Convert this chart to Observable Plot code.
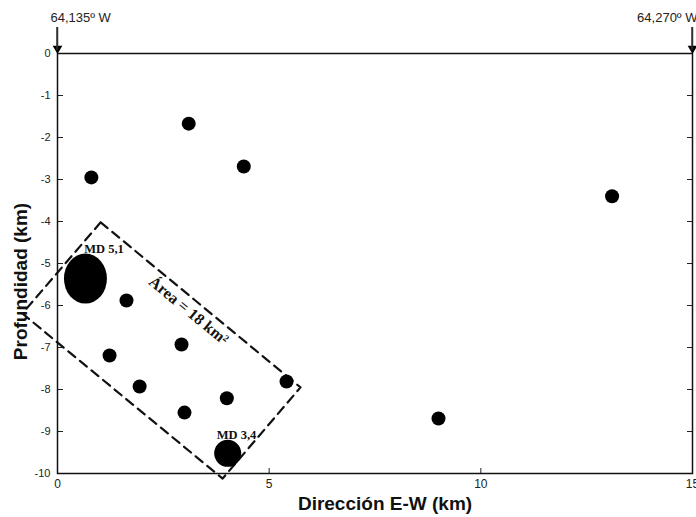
<!DOCTYPE html>
<html><head><meta charset="utf-8">
<script src="https://cdn.jsdelivr.net/npm/d3@7"></script>
<script src="https://cdn.jsdelivr.net/npm/@observablehq/plot@0.6"></script>
<style>body{margin:0;background:#fff}</style>
</head><body><div id="chart"></div>
<script>
// Earthquake hypocentres (small events)
const distance = [0.80, 3.10, 4.40, 13.10, 9.00, 1.63, 1.23, 2.93, 1.94, 3.00, 4.00, 5.41];
const depth    = [-2.95, -1.67, -2.69, -3.40, -8.69, -5.88, -7.19, -6.93, -7.93, -8.55, -8.21, -7.81];
// Largest events
const mdLabels = ["MD 5,1", "MD 3,4"];
const mdDistance = [0.66, 4.02];
const mdDepth = [-5.36, -9.52];
const mdLabelDistance = [1.10, 4.23];
const mdLabelDepth = [-4.66, -9.08];
// Dashed area outline (corners)
const areaCornerDistance = [1.02, 5.74, 3.90, -0.83, 1.02];
const areaCornerDepth    = [-4.02, -7.95, -10.12, -6.19, -4.02];
const areaLabel = "Área = 18 km²";
const areaLabelDistance = [3.10];
const areaLabelDepth = [-6.12];
// Axes
const xTicks = [0, 5, 10, 15];
const yTicks = [0, -1, -2, -3, -4, -5, -6, -7, -8, -9, -10];
const xLabel = "Dirección E-W (km)";
const yLabel = "Profundidad (km)";
// Longitude markers
const lonLabels = ["64,135º W", "64,270º W"];
const lonDistance = [0, 15];
const arrowSpan = [0.62, 0.08]; // arrow shaft, km above the 0 line

const events = distance.map((d, i) => ({x: d, y: depth[i]}));
const big = mdLabels.map((l, i) => ({label: l, x: mdDistance[i], y: mdDepth[i], lx: mdLabelDistance[i], ly: mdLabelDepth[i]}));
const area = areaCornerDistance.map((d, i) => ({x: d, y: areaCornerDepth[i]}));
const lons = lonLabels.map((l, i) => ({label: l, x: lonDistance[i]}));

const sans = "'Liberation Sans', Arial, sans-serif";
const serif = "'Liberation Serif', 'Times New Roman', serif";

const plot = Plot.plot({
  width: 696,
  height: 517,
  marginLeft: 57,
  marginRight: 4,
  marginTop: 53,
  marginBottom: 44,
  style: {fontFamily: sans, background: "#fff", overflow: "visible"},
  x: {domain: [0, 15]},
  y: {domain: [-10, 0]},
  r: {type: "identity"},
  marks: [
    Plot.axisY({anchor: "left", ticks: yTicks, tickSize: -6, tickPadding: 13, tickFormat: d => String(d), fontSize: 11, label: null, color: "#222"}),
    Plot.axisY({anchor: "right", ticks: yTicks, tickSize: -6, tickFormat: () => "", label: null, color: "#222"}),
    Plot.axisX({anchor: "bottom", ticks: xTicks, tickSize: -5, tickPadding: 11, tickFormat: d => String(d), fontSize: 12, label: null, color: "#222"}),
    Plot.frame({stroke: "#111", strokeWidth: 1.5}),
    Plot.line(area, {x: "x", y: "y", stroke: "#111", strokeWidth: 2.2, strokeDasharray: "9,6", clip: false}),
    Plot.dot(events, {x: "x", y: "y", r: 7, fill: "#000", stroke: "none"}),
    Plot.dot(big, {x: "x", y: "y", r: d => d.label === "MD 5,1" ? 25 : 13.5, fill: "#000", stroke: "none", className: "bigev"}),
    Plot.text(big, {x: "lx", y: "ly", text: "label", fontFamily: serif, fontWeight: "bold", fontSize: 12.5, fill: "#111"}),
    Plot.text([areaLabel], {x: () => areaLabelDistance[0], y: () => areaLabelDepth[0], text: d => d, rotate: 39.5, fontFamily: serif, fontWeight: "bold", fontSize: 16, fill: "#111"}),
    Plot.text([xLabel], {frameAnchor: "bottom", textAnchor: "middle", lineAnchor: "middle", dx: 10, dy: 30, text: d => d, fontWeight: "bold", fontSize: 19, fill: "#111"}),
    Plot.text([yLabel], {frameAnchor: "left", textAnchor: "middle", lineAnchor: "middle", dx: -37, dy: 18, rotate: -90, text: d => d, fontWeight: "bold", fontSize: 19, fill: "#111"}),
    Plot.tickX(lons, {x: "x", insetTop: -26, insetBottom: 425, stroke: "#333", strokeWidth: 1.5, clip: false}),
    Plot.dot(lons, {x: "x", y: 0, dy: -5, symbol: "triangle", rotate: 180, r: 3.6, fill: "#000", stroke: "none", clip: false}),
    Plot.text(lons.slice(0, 1), {x: "x", y: 0, dy: -36, dx: -7, text: "label", textAnchor: "start", fontSize: 13, fill: "#222"}),
    Plot.text(lons.slice(1), {x: "x", y: 0, dy: -36, dx: 5, text: "label", textAnchor: "end", fontSize: 13, fill: "#222"})
  ]
});

// make the largest event slightly elliptical (taller than wide)
d3.select(plot).selectAll(".bigev circle").each(function() {
  const c = d3.select(this);
  if (+c.attr("r") > 20) {
    const cx = +c.attr("cx"), cy = +c.attr("cy");
    c.attr("transform", `translate(${cx},${cy}) scale(0.86,1) translate(${-cx},${-cy})`);
  }
});

// arrow shafts above the longitude markers, positioned through the plot's own scales
const xs = plot.scale("x"), ys = plot.scale("y");
const svg = d3.select(plot);
lons.forEach(d => {
  svg.append("line")
    .attr("x1", xs.apply(d.x)).attr("x2", xs.apply(d.x))
    .attr("y1", ys.apply(arrowSpan[0])).attr("y2", ys.apply(arrowSpan[1]))
    .attr("stroke", "#333").attr("stroke-width", 1.5);
});

document.getElementById("chart").appendChild(plot);
</script>
</body></html>
